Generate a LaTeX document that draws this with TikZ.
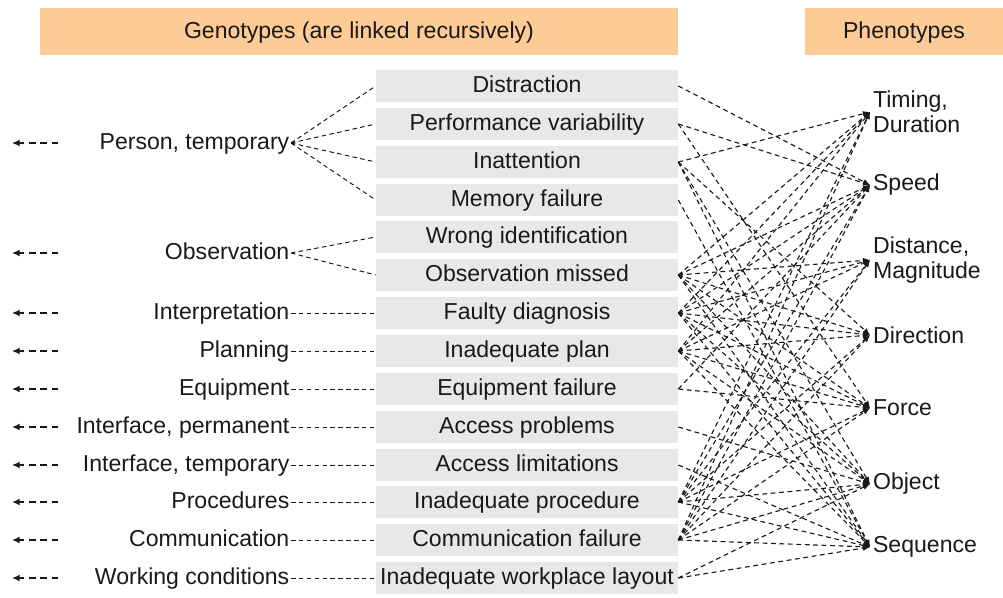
\documentclass[tikz,border=0pt]{standalone}
\usepackage{fontspec}
\setmainfont{Liberation Sans}
\usepackage{xcolor}
\usepackage{tikz}
\usetikzlibrary{arrows.meta}
\usetikzlibrary{positioning}
\definecolor{headorange}{RGB}{253,204,150}
\definecolor{boxgray}{RGB}{232,232,232}
\definecolor{inkblack}{RGB}{25,25,25}

\begin{document}
\begin{tikzpicture}[
	x=0.025cm, y=-0.025cm,
	font=\fontsize{16.4}{18}\selectfont,
	text=inkblack
]
\tikzset{
    headbar/.style = {rectangle, fill=headorange, minimum height=1.175cm, inner sep=0pt, text height=2.1ex, text depth=0.3ex},
    genobox/.style = {rectangle, fill=boxgray, minimum width=7.55cm, minimum height=0.8cm, inner sep=0pt, text height=2.1ex, text depth=0.3ex},
    catlabel/.style = {anchor=east, inner sep=1pt, text height=2.1ex, text depth=0.3ex},
    phenolabel/.style = {anchor=west, align=left, inner sep=2pt},
    feed/.style = {draw=inkblack, line width=0.7pt, dash pattern=on 3.2pt off 2.4pt},
    link/.style = {draw=inkblack, line width=0.8pt, dash pattern=on 3.4pt off 2.6pt, -{Latex[length=5pt,width=4pt]}},
    backarrow/.style = {draw=inkblack, line width=1.3pt, dash pattern=on 4.6pt off 3.4pt, -{Latex[length=5.5pt,width=5pt]}}
}
\useasboundingbox (0,0) rectangle (1003,597);

\node[headbar,minimum width=15.95cm] (genohead) at (359,31.5) {Genotypes (are linked recursively)};
\node[headbar,minimum width=4.95cm] (phenohead) at (904,31.5) {Phenotypes};

\node[genobox] (g1) at (527,86) {Distraction};
\node[genobox] (g2) at (527,124) {Performance variability};
\node[genobox] (g3) at (527,162) {Inattention};
\node[genobox] (g4) at (527,200) {Memory failure};
\node[genobox] (g5) at (527,237) {Wrong identification};
\node[genobox] (g6) at (527,275) {Observation missed};
\node[genobox] (g7) at (527,313) {Faulty diagnosis};
\node[genobox] (g8) at (527,351) {Inadequate plan};
\node[genobox] (g9) at (527,389) {Equipment failure};
\node[genobox] (g10) at (527,427) {Access problems};
\node[genobox] (g11) at (527,465) {Access limitations};
\node[genobox] (g12) at (527,502) {Inadequate procedure};
\node[genobox] (g13) at (527,540) {Communication failure};
\node[genobox] (g14) at (527,578) {Inadequate workplace layout};

\node[catlabel] (c1) at (291,143) {Person, temporary};
\node[catlabel] (c2) at (291,253) {Observation};
\node[catlabel] (c3) at (291,313) {Interpretation};
\node[catlabel] (c4) at (291,351) {Planning};
\node[catlabel] (c5) at (291,389) {Equipment};
\node[catlabel] (c6) at (291,427) {Interface, permanent};
\node[catlabel] (c7) at (291,465) {Interface, temporary};
\node[catlabel] (c8) at (291,502) {Procedures};
\node[catlabel] (c9) at (291,540) {Communication};
\node[catlabel] (c10) at (291,578) {Working conditions};

\node[phenolabel] (p1) at (870,112) {Timing,\\Duration};
\node[phenolabel] (p2) at (870,185) {Speed};
\node[phenolabel] (p3) at (870,260) {Distance,\\Magnitude};
\node[phenolabel] (p4) at (870,335) {Direction};
\node[phenolabel] (p5) at (870,408) {Force};
\node[phenolabel] (p6) at (870,484) {Object};
\node[phenolabel] (p7) at (870,547) {Sequence};

\foreach \i/\y in {1/143,2/253,3/313,4/351,5/389,6/427,7/465,8/502,9/540,10/578}{
    \coordinate (t\i) at (58,\y);
    \coordinate (h\i) at (12,\y);
    \draw[backarrow] (t\i) -- (h\i);
}

\draw[feed] (c1.east) -- (g1.west) (c1.east) -- (g2.west) (c1.east) -- (g3.west) (c1.east) -- (g4.west);
\draw[feed] (c2.east) -- (g5.west) (c2.east) -- (g6.west);
\draw[feed] (c3.east) -- (g7.west);
\draw[feed] (c4.east) -- (g8.west);
\draw[feed] (c5.east) -- (g9.west);
\draw[feed] (c6.east) -- (g10.west);
\draw[feed] (c7.east) -- (g11.west);
\draw[feed] (c8.east) -- (g12.west);
\draw[feed] (c9.east) -- (g13.west);
\draw[feed] (c10.east) -- (g14.west);

\path (g1.east) edge[link] (p2.west);
\path (g2.east) edge[link] (p2.west) edge[link] (p5.west);
\path (g3.east) edge[link] (p1.west) edge[link] (p4.west) edge[link] (p6.west) edge[link] (p7.west);
\path (g4.east) edge[link] (p7.west);
\path (g9.east) edge[link] (p2.west) edge[link] (p5.west);
\path (g10.east) edge[link] (p6.west);
\path (g11.east) edge[link] (p7.west);
\path (g14.east) edge[link] (p6.west) edge[link] (p7.west);
\foreach \g in {6,7,8,12,13}{
    \foreach \p in {1,...,7}
        \path (g\g.east) edge[link] (p\p.west);
}
\end{tikzpicture}
\end{document}
